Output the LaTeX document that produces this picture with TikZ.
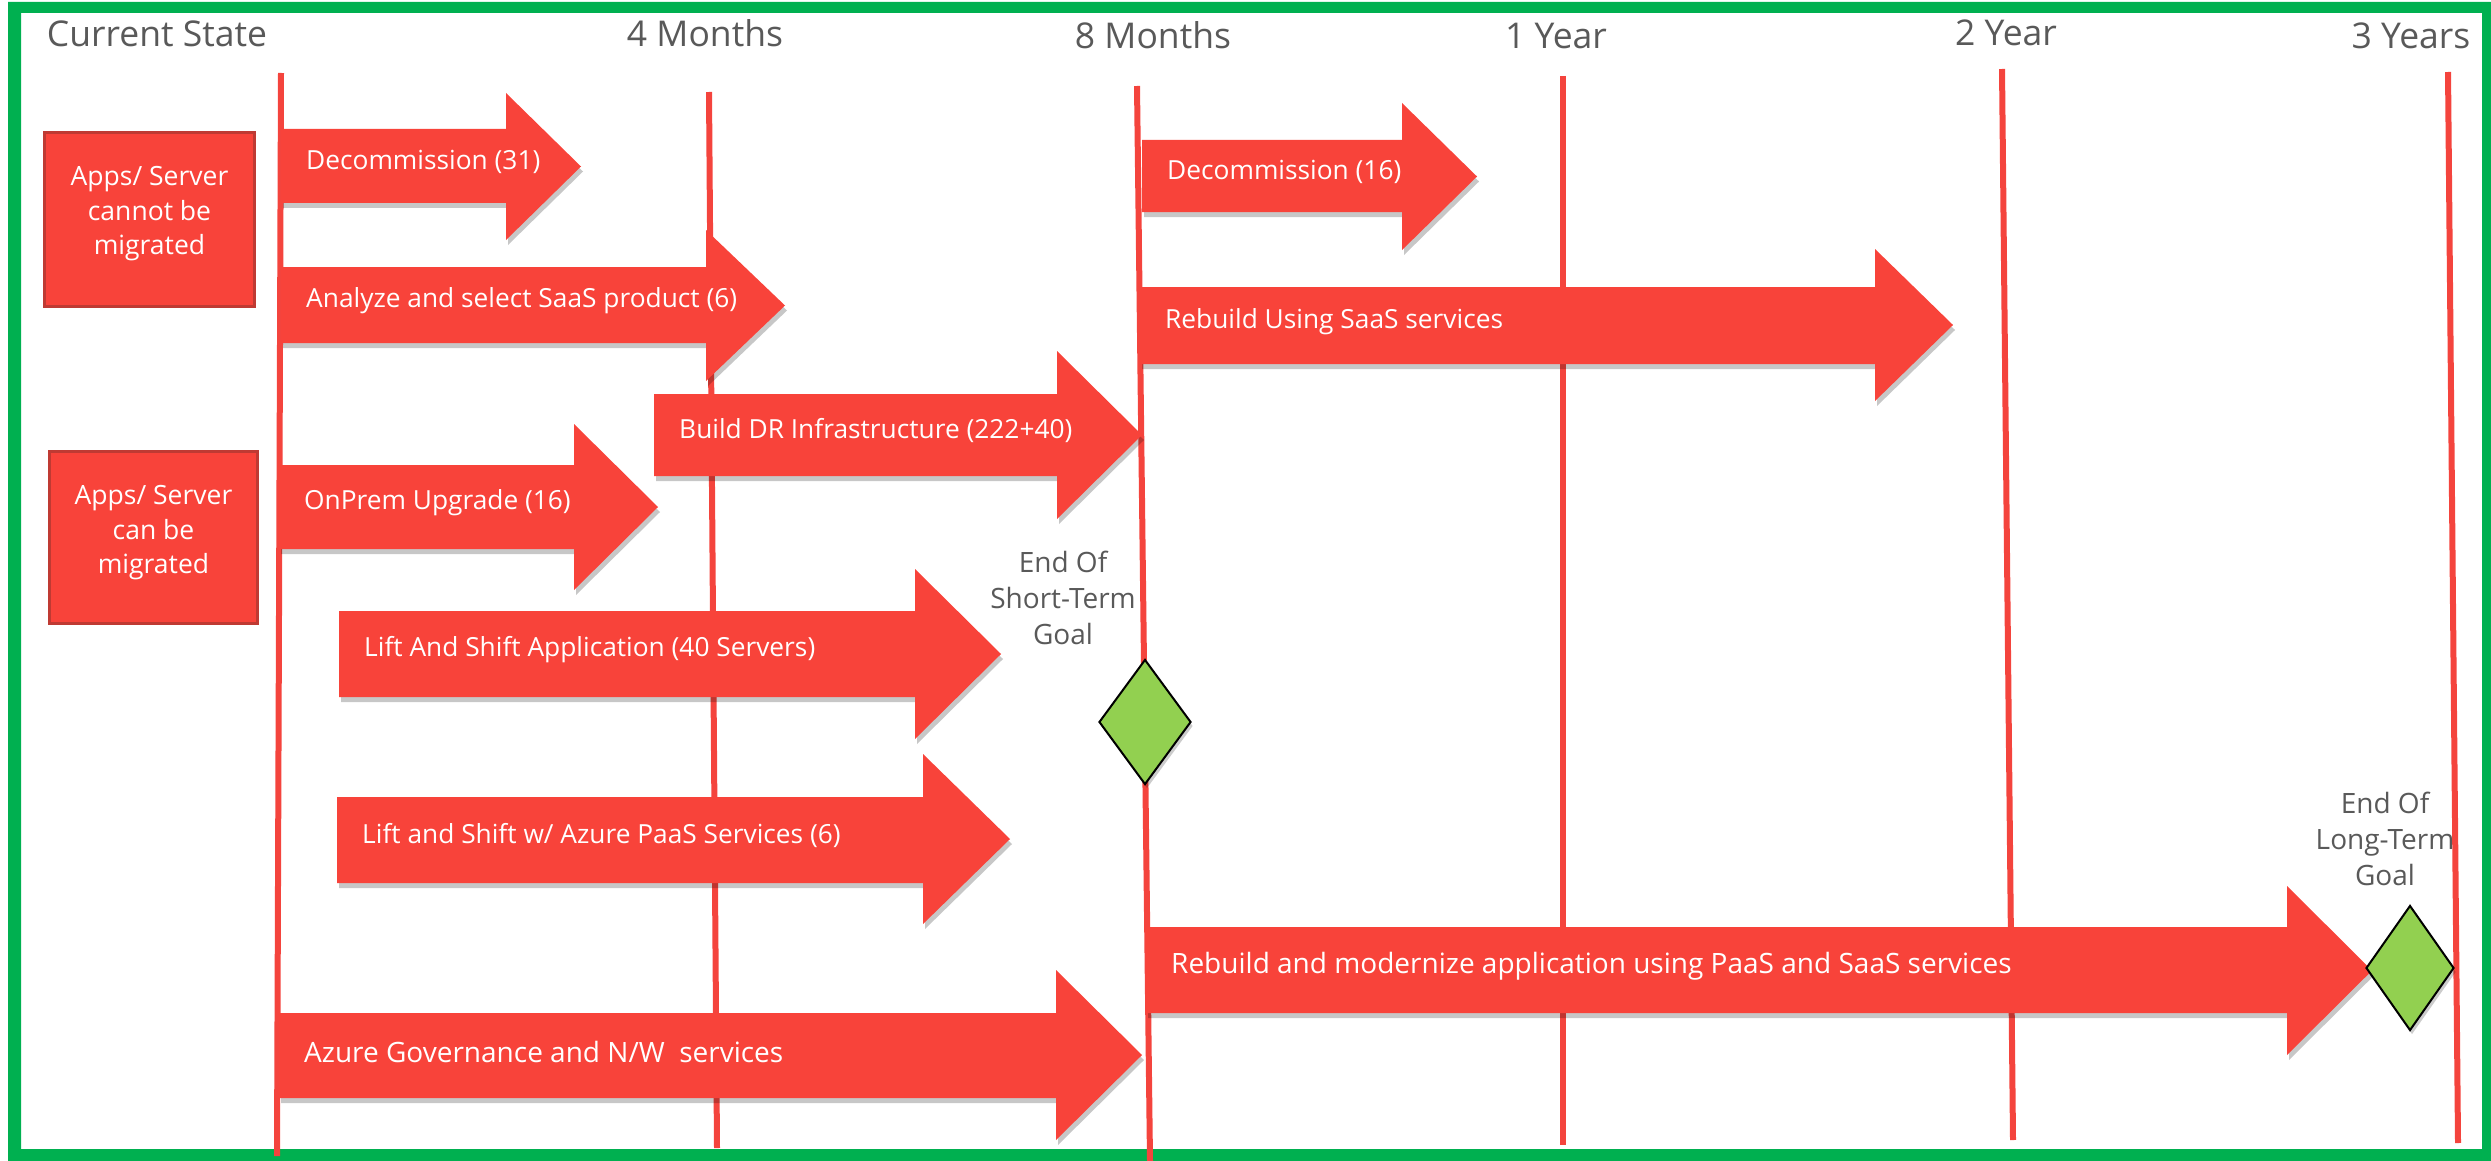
\documentclass[tikz,border=0pt]{standalone}
\usepackage{fontspec}
\setmainfont{Open Sans}
\usetikzlibrary{shapes.geometric,shadows}
\definecolor{arrowred}{HTML}{F8433A}
\definecolor{linered}{HTML}{F4443D}
\definecolor{framegreen}{HTML}{00B050}
\definecolor{boxedge}{HTML}{BF3A33}
\definecolor{goalgreen}{HTML}{92D050}
\definecolor{titlegray}{HTML}{595959}
\tikzset{
  arrowshadow/.style={drop shadow={shadow xshift=2pt, shadow yshift=-5pt, opacity=0.22, fill=black}},
  arrowlabel/.style={anchor=west, inner sep=0pt, text=white, font=\fontsize{26.3}{30}\selectfont},
  titletext/.style={anchor=base, inner sep=0pt, text=titlegray, font=\fontsize{35.5}{40}\selectfont},
  goaltext/.style={align=center, inner sep=0pt, text=titlegray, font=\fontsize{28}{36}\selectfont},
  statebox/.style={rectangle, fill=arrowred, draw=boxedge, line width=3pt, inner sep=0pt},
  statetext/.style={align=center, inner sep=0pt, text=white, font=\fontsize{26.5}{34.5}\selectfont},
  milestone/.style={diamond, draw=black, line width=2pt, fill=goalgreen, minimum height=125pt, inner sep=0pt,
    drop shadow={shadow xshift=2pt, shadow yshift=-4pt, opacity=0.2, fill=black}},
  tline/.style={draw=linered, line width=6pt}
}
\newcommand\biglabel{\fontsize{28}{32}\selectfont}
% name, x0, body top, body bottom, head x, head top, head bottom, tip x, text
\newcommand\garrow[9]{%
  \fill[arrowred, arrowshadow] (#2,#3) -- (#5,#3) -- (#5,#6) -- (#8,{(#6+#7)/2}) -- (#5,#7) -- (#5,#4) -- (#2,#4) -- cycle;
  \node[arrowlabel] (#1) at ({#2+25},{(#3+#4)/2-4}) {#9};
}
\begin{document}
\begin{tikzpicture}[x=1pt,y=-1pt]
\useasboundingbox (0,0) rectangle (2491,1161);
% frame
\fill[framegreen, even odd rule] (8,2) rectangle (2491,1161) (21,13) rectangle (2482,1149);
% time lines
\draw[tline] (281,73) -- (277,1156);
\draw[tline] (709,92) -- (717,1148);
\draw[tline] (1137,86) -- (1150,1161);
\draw[tline] (1563,76) -- (1563,1145);
\draw[tline] (2002,69) -- (2013,1140);
\draw[tline] (2448,72) -- (2458,1143);
% titles
\node[titletext] (tcur) at (157,47) {Current State};
\node[titletext] (t4m) at (705,47) {4 Months};
\node[titletext] (t8m) at (1153,49) {8 Months};
\node[titletext] (t1y) at (1556,49) {1 Year};
\node[titletext] (t2y) at (2006,46) {2 Year};
\node[titletext] (t3y) at (2411,49) {3 Years};
% state boxes
\node[statebox, minimum width=210pt, minimum height=174pt] (box1) at (149.5,219.5) {};
\node[statetext] (box1txt) at (149.5,214) {Apps/ Server\\cannot be\\migrated};
\node[statebox, minimum width=208pt, minimum height=172pt] (box2) at (153.5,537) {};
\node[statetext] (box2txt) at (153.5,533) {Apps/ Server\\can be\\migrated};
% arrows
\garrow{dec31}{281}{129}{203}{506}{93}{240}{581}{Decommission (31)}
\garrow{saas6}{281}{267}{343}{706}{230}{381}{785}{Analyze and select SaaS product (6)}
\garrow{builddr}{654}{394}{476}{1057}{351}{519}{1142}{Build DR Infrastructure (222+40)}
\garrow{onprem}{279}{465}{549}{574}{424}{590}{658}{OnPrem Upgrade (16)}
\garrow{liftapp}{339}{611}{697}{915}{569}{739}{1001}{Lift And Shift Application (40 Servers)}
\garrow{liftpaas}{337}{797}{883}{923}{754}{924}{1010}{Lift and Shift w/ Azure PaaS Services (6)}
\garrow{azgov}{279}{1013}{1098}{1056}{970}{1140}{1142}{\biglabel Azure Governance and N/W\ \ services}
\garrow{dec16}{1142}{140}{212}{1402}{103}{250}{1477}{Decommission (16)}
\garrow{rebsaas}{1140}{287}{364}{1875}{249}{401}{1953}{Rebuild Using SaaS services}
\garrow{rebmod}{1146}{927}{1013}{2287}{886}{1055}{2372}{\biglabel Rebuild and modernize application using PaaS and SaaS services}
% milestones
\node[milestone, minimum width=92pt] (m1) at (1145,722) {};
\node[milestone, minimum width=88pt] (m2) at (2410,968) {};
\node[goaltext] (g1) at (1063,598) {End Of\\Short-Term\\Goal};
\node[goaltext] (g2) at (2385,839) {End Of\\Long-Term\\Goal};
\end{tikzpicture}
\end{document}
